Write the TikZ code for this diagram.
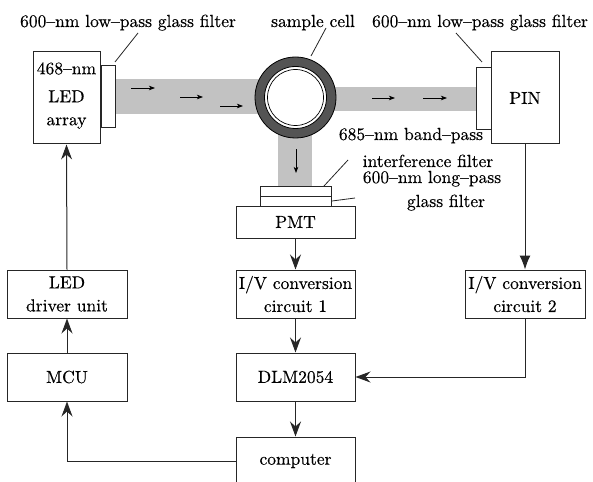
\documentclass[tikz,border=0pt]{standalone}
\usepackage{fontspec}
\setmainfont{lmroman10-regular.otf}[FakeBold=0.4]
\usetikzlibrary{arrows.meta}
\definecolor{beamc}{gray}{0.76}
\definecolor{ringc}{gray}{0.33}
\definecolor{linec}{gray}{0.15}
\begin{document}
\begin{tikzpicture}[x=1pt,y=-1pt,
  txt/.style={font=\fontsize{17.5}{23}\selectfont, inner sep=0pt},
  box/.style={draw=linec, line width=1pt, inner sep=0pt, align=center, txt},
  filt/.style={draw=linec, line width=1pt, fill=white, inner sep=0pt},
  arr/.style={draw=linec, line width=1pt, -{Stealth[length=15pt,width=11pt,inset=5pt]}},
  arrl/.style={draw=linec, line width=1pt, -{Latex[length=14pt,width=11pt]}},
  barr/.style={line width=0.8pt, -{Stealth[length=6pt,width=4.5pt,inset=1.5pt]}},
  lead/.style={draw=linec, line width=0.8pt}]
\useasboundingbox (0,0) rectangle (593,481);
\clip (0,0) rectangle (593,481);
% beams
\fill[beamc] (115,79) rectangle (295.5,114);
\fill[beamc] (295.5,87) rectangle (476,111);
\fill[beamc] (278,97.5) rectangle (312,186);
% sample cell
\node[circle, draw=black, fill=ringc, minimum size=81pt, line width=0.8pt, inner sep=0pt] (cell) at (295.5,97.5) {};
\node[circle, draw=black, fill=white, minimum size=62pt, line width=0.8pt, inner sep=0pt] (cellin) at (cell.center) {};
\node[circle, draw=black, minimum size=56pt, line width=0.7pt, inner sep=0pt] (cellcore) at (cell.center) {};
% beam arrows
\draw[barr] (131,88) -- (155,88);
\draw[barr] (180,97) -- (203,97);
\draw[barr] (220,106) -- (243,106);
\draw[barr] (372,98) -- (395,98);
\draw[barr] (423,98) -- (447,98);
\draw[barr] (296,149) -- (296,173);
% top row
\node[box, minimum width=67pt, minimum height=92pt, text depth=8.4pt] (led) at (66.5,98) {468--nm\\[5pt]LED\\array};
\node[filt, minimum width=14pt, minimum height=62pt] (ledf) at (108,97) {};
\node[box, minimum width=68pt, minimum height=92pt] (pin) at (525,98) {PIN};
\node[filt, minimum width=15pt, minimum height=62pt] (pinf) at (483.5,99) {};
\node[filt, minimum width=71pt, minimum height=10pt] (f1) at (295.5,191) {};
\node[filt, minimum width=71pt, minimum height=10pt] (f2) at (295.5,201) {};
\node[box, minimum width=119pt, minimum height=32pt] (pmt) at (295.5,222) {PMT};
% labels
\node[txt, anchor=base] (lbl1) at (128,27) {600--nm low--pass glass filter};
\node[txt, anchor=base] (lbl2) at (313,27) {sample cell};
\node[txt, anchor=base] (lbl3) at (480,27) {600--nm low--pass glass filter};
\node[txt, anchor=base] (lbl4) at (411,140) {685--nm band--pass};
\node[txt, anchor=base] (lbl5) at (428,167) {interference filter};
\node[txt, anchor=base] (lbl6) at (432,183) {600--nm long--pass};
\node[txt, anchor=base] (lbl7) at (446,207) {glass filter};
% leader lines
\coordinate (c1a) at (115,62); \coordinate (c1b) at (138,33);
\coordinate (c2a) at (311,56); \coordinate (c2b) at (326,28);
\coordinate (c3a) at (482,62); \coordinate (c3b) at (456,33);
\coordinate (c4a) at (324,186); \coordinate (c4b) at (348,160);
\coordinate (c5a) at (332,201); \coordinate (c5b) at (355,198);
\draw[lead] (c1a) -- (c1b);
\draw[lead] (c2a) -- (c2b);
\draw[lead] (c3a) -- (c3b);
\draw[lead] (c4a) -- (c4b);
\draw[lead] (c5a) -- (c5b);
% lower boxes
\node[box, minimum width=120pt, minimum height=48pt] (drv) at (67,294) {LED\\driver unit};
\node[box, minimum width=120pt, minimum height=48pt] (mcu) at (67,377) {MCU};
\node[box, minimum width=119pt, minimum height=48pt] (iv1) at (295.5,294) {I/V conversion\\circuit 1};
\node[box, minimum width=119pt, minimum height=48pt] (dlm) at (295.5,377) {DLM2054};
\node[box, minimum width=119pt, minimum height=48pt] (comp) at (295.5,461) {computer};
\node[box, minimum width=120pt, minimum height=48pt] (iv2) at (525,294) {I/V conversion\\circuit 2};
% connectors
\draw[arr] (drv.north) -- (led.south);
\draw[arr] (mcu.north) -- (drv.south);
\draw[arr] (comp.west) -| (mcu.south);
\draw[arr] (pmt.south) -- (iv1.north);
\draw[arr] (iv1.south) -- (dlm.north);
\draw[arr] (dlm.south) -- (comp.north);
\draw[arrl] (pin.south) -- (iv2.north);
\draw[arr] (iv2.south) |- (dlm.east);
\end{tikzpicture}
\end{document}
